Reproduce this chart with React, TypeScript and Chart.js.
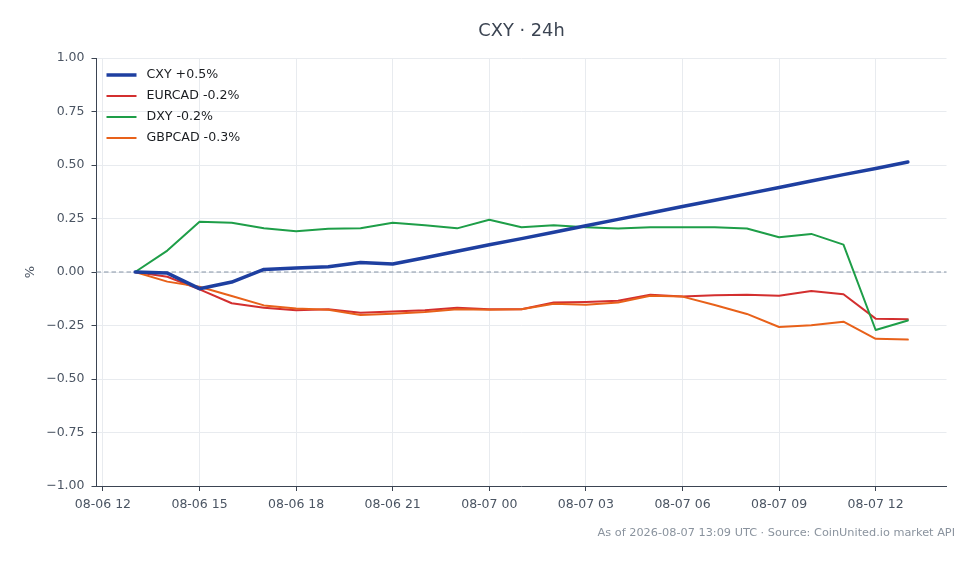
import { useEffect, useRef } from 'react';
import { Chart, registerables } from 'chart.js';
Chart.register(...registerables);

// hours counted from 08-06 00:00 UTC
const HOURS = [13, 14, 15, 16, 17, 18, 19, 20, 21, 22, 23, 24, 25, 26, 27, 28, 29, 30, 31, 32, 33, 34, 35, 36, 37];

const CXY = [0, -0.005, -0.078, -0.047, 0.012, 0.019, 0.025, 0.044, 0.037, 0.067, 0.097, 0.127, 0.156, 0.186, 0.216, 0.246, 0.276, 0.306, 0.335, 0.365, 0.395, 0.425, 0.455, 0.484, 0.514];
const EURCAD = [0, -0.022, -0.081, -0.146, -0.167, -0.179, -0.174, -0.19, -0.185, -0.179, -0.167, -0.174, -0.174, -0.143, -0.14, -0.134, -0.106, -0.114, -0.109, -0.106, -0.111, -0.089, -0.104, -0.218, -0.221];
const DXY = [0, 0.1, 0.235, 0.23, 0.204, 0.19, 0.202, 0.204, 0.23, 0.218, 0.204, 0.244, 0.209, 0.218, 0.209, 0.203, 0.209, 0.209, 0.209, 0.203, 0.162, 0.178, 0.128, -0.271, -0.227];
const GBPCAD = [0, -0.045, -0.069, -0.112, -0.156, -0.171, -0.176, -0.201, -0.195, -0.187, -0.174, -0.176, -0.174, -0.148, -0.153, -0.143, -0.111, -0.115, -0.154, -0.196, -0.257, -0.249, -0.232, -0.312, -0.316];

const SERIES_NAMES = ['CXY +0.5%', 'EURCAD -0.2%', 'DXY -0.2%', 'GBPCAD -0.3%'];
const X_TICKS = [12, 15, 18, 21, 24, 27, 30, 33, 36];
const X_TICK_LABELS = ['08-06 12', '08-06 15', '08-06 18', '08-06 21', '08-07 00', '08-07 03', '08-07 06', '08-07 09', '08-07 12'];

const TITLE = 'CXY · 24h';
const FOOTNOTE = 'As of 2026-08-07 13:09 UTC · Source: CoinUnited.io market API';
const FONT = '"DejaVu Sans", sans-serif';

const COLORS = ['#1e3fa0', '#d32f2f', '#1e9e48', '#e8611a'];
const WIDTHS = [3.5, 2, 2, 2];

const extras = {
  id: 'extras',
  beforeDatasetsDraw(chart: any) {
    const { ctx, chartArea, scales } = chart;
    const y0 = scales.y.getPixelForValue(0);
    ctx.save();
    ctx.strokeStyle = '#8594a6';
    ctx.lineWidth = 1;
    ctx.setLineDash([4.5, 3]);
    ctx.beginPath();
    ctx.moveTo(chartArea.left, y0);
    ctx.lineTo(chartArea.right, y0);
    ctx.stroke();
    ctx.restore();
  },
  afterDraw(chart: any) {
    const { ctx, chartArea, width } = chart;
    ctx.save();
    // title
    ctx.fillStyle = '#3b4452';
    ctx.font = `17.8px ${FONT}`;
    ctx.textAlign = 'center';
    ctx.textBaseline = 'middle';
    ctx.fillText(TITLE, (chartArea.left + chartArea.right) / 2, 31);
    // y axis title
    ctx.save();
    ctx.translate(31, (chartArea.top + chartArea.bottom) / 2);
    ctx.rotate(-Math.PI / 2);
    ctx.fillStyle = '#4b5563';
    ctx.font = `13px ${FONT}`;
    ctx.fillText('%', 0, 0);
    ctx.restore();
    // legend inside the plot
    ctx.font = `12.6px ${FONT}`;
    ctx.textAlign = 'left';
    SERIES_NAMES.forEach((name, i) => {
      const y = chartArea.top + 17 + i * 21;
      ctx.strokeStyle = COLORS[i];
      ctx.lineWidth = WIDTHS[i];
      ctx.setLineDash([]);
      ctx.beginPath();
      ctx.moveTo(chartArea.left + 10, y);
      ctx.lineTo(chartArea.left + 40, y);
      ctx.stroke();
      ctx.fillStyle = '#1a1d21';
      ctx.fillText(name, chartArea.left + 50, y);
    });
    // footnote
    ctx.fillStyle = '#8a939e';
    ctx.font = `11.3px ${FONT}`;
    ctx.textAlign = 'right';
    ctx.fillText(FOOTNOTE, width - 23, 533);
    ctx.restore();
  },
};

export default function App() {
  const canvasRef = useRef<HTMLCanvasElement>(null);

  useEffect(() => {
    document.body.style.margin = '0';
    if (!canvasRef.current) return;
    const series = [CXY, EURCAD, DXY, GBPCAD];
    const order = [0, 3, 2, 1];
    const chart = new Chart(canvasRef.current, {
      type: 'line',
      data: {
        datasets: series.map((vals, i) => ({
          label: SERIES_NAMES[i],
          data: vals.map((v, j) => ({ x: HOURS[j], y: v })),
          borderColor: COLORS[i],
          backgroundColor: COLORS[i],
          borderWidth: WIDTHS[i],
          pointRadius: 0,
          tension: 0,
          order: order[i],
          borderCapStyle: 'round',
          borderJoinStyle: 'round',
        })),
      },
      plugins: [extras],
      options: {
        animation: false,
        responsive: true,
        maintainAspectRatio: false,
        layout: { padding: { left: 0, right: 31.5, top: 58, bottom: 48 } },
        plugins: { legend: { display: false }, tooltip: { enabled: false }, title: { display: false } },
        scales: {
          x: {
            type: 'linear',
            min: 11.8,
            max: 38.2,
            afterBuildTicks: (scale: any) => {
              scale.ticks = X_TICKS.map(v => ({ value: v }));
            },
            afterFit: (scale: any) => { scale.height = 30; },
            ticks: {
              autoSkip: false,
              maxRotation: 0,
              padding: 6,
              color: '#4b5563',
              font: { family: FONT, size: 12.5 },
              callback: (v: any) => X_TICK_LABELS[X_TICKS.indexOf(Number(v))] ?? '',
            },
            grid: { color: '#e8ebef', tickColor: '#3b4452', tickLength: 5, lineWidth: 1 },
            border: { color: '#3b4452', width: 1 },
          },
          y: {
            min: -1,
            max: 1,
            afterFit: (scale: any) => { scale.width = 96.5; },
            ticks: {
              stepSize: 0.25,
              padding: 7,
              color: '#4b5563',
              font: { family: FONT, size: 12.5 },
              callback: (v: any) => Number(v).toFixed(2).replace('-', '\u2212'),
            },
            grid: { color: '#e8ebef', tickColor: '#3b4452', tickLength: 5, lineWidth: 1 },
            border: { color: '#3b4452', width: 1 },
          },
        },
      },
    });
    return () => chart.destroy();
  }, []);

  return (
    <div style={{ position: 'relative', width: 978, height: 564, background: '#fff' }}>
      <canvas ref={canvasRef} />
    </div>
  );
}
